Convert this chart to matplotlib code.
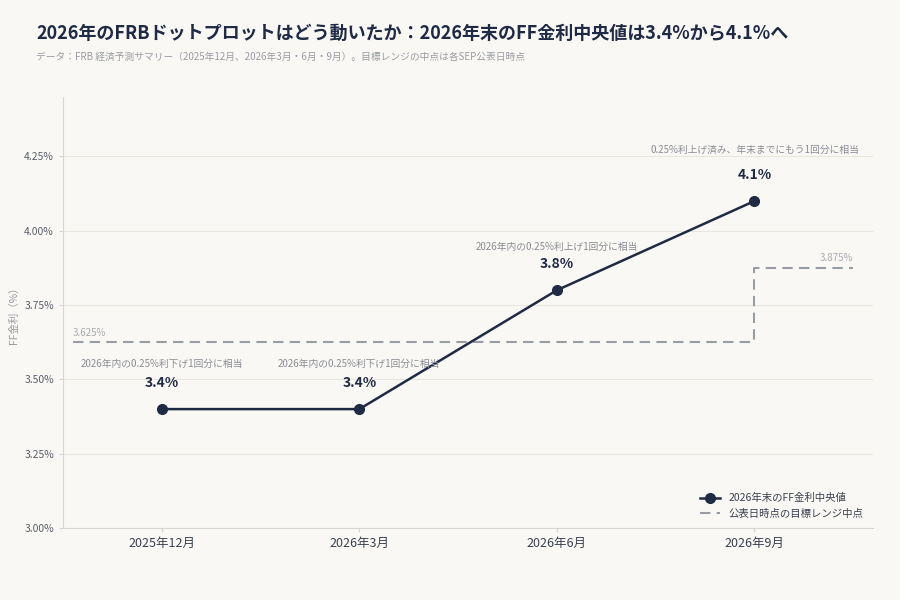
import matplotlib
matplotlib.use("Agg")
import matplotlib.pyplot as plt

plt.rcParams['font.family'] = ['Noto Sans CJK JP', 'DejaVu Sans']

labels = ["2025年12月", "2026年3月", "2026年6月", "2026年9月"]
median = [3.4, 3.4, 3.8, 4.1]
notes = ["2026年内の0.25%利下げ1回分に相当", "2026年内の0.25%利下げ1回分に相当",
         "2026年内の0.25%利上げ1回分に相当", "0.25%利上げ済み、年末までにもう1回分に相当"]
step_x = [-0.45, 3, 3.5]
step_y = [3.625, 3.875, 3.875]
yticks = [3.0, 3.25, 3.5, 3.75, 4.0, 4.25]

bg = "#f9f8f4"
navy = "#1f2a44"
gray = "#9a9ca5"
fig = plt.figure(figsize=(9, 6), dpi=100, facecolor=bg)
ax = fig.add_axes([63/900, 72/600, 810/900, 431/600], facecolor=bg)
x = list(range(len(labels)))
ax.plot(step_x, step_y, drawstyle="steps-post", color=gray, lw=1.5, ls=(0, (5, 3)),
        label="公表日時点の目標レンジ中点")
ax.plot(x, median, color=navy, lw=1.8, marker="o", ms=7, label="2026年末のFF金利中央値", zorder=3)
for xi, v in zip(x, median):
    ax.annotate(f"{v:.1f}%", (xi, v), xytext=(0, 14), textcoords="offset points",
                ha="center", va="bottom", fontsize=10, fontweight="bold", color=navy)
note_y = [3.535, 3.535, 3.93, 4.255]
for xi, t, ny in zip(x, notes, note_y):
    ax.text(xi, ny, t, ha="center", va="bottom", fontsize=7, color="#8a8c94")
ax.text(step_x[0], step_y[0] + 0.015, "3.625%", ha="left", va="bottom", fontsize=7, color="#a8aab0")
ax.text(step_x[-1], step_y[-1] + 0.015, "3.875%", ha="right", va="bottom", fontsize=7, color="#a8aab0")

ax.set_xlim(-0.5, 3.6)
ax.set_ylim(3.0, 4.45)
ax.set_xticks(x)
ax.set_xticklabels(labels, fontsize=9, color="#3a4050")
ax.set_yticks(yticks)
ax.set_yticklabels([f"{v:.2f}%" for v in yticks], fontsize=7.5, color="#5a5f6c")
ax.grid(axis="y", color="#e8e6e0", lw=0.8)
ax.set_axisbelow(True)
for s in ["top", "right"]:
    ax.spines[s].set_visible(False)
for s in ["left", "bottom"]:
    ax.spines[s].set_color("#d8d6d0")
ax.tick_params(length=3, color="#d8d6d0")
ax.set_ylabel("FF金利（%）", fontsize=7.5, color="#9a9ca5")
h, l = ax.get_legend_handles_labels()
ax.legend(h[::-1], l[::-1], loc="lower right", frameon=False, fontsize=7.5, labelcolor="#3a4050")

fig.text(36/900, 1 - 33/600, "2026年のFRBドットプロットはどう動いたか：2026年末のFF金利中央値は3.4%から4.1%へ",
         fontsize=13, fontweight="bold", color=navy, va="center")
fig.text(36/900, 1 - 57/600, "データ：FRB 経済予測サマリー（2025年12月、2026年3月・6月・9月）。目標レンジの中点は各SEP公表日時点",
         fontsize=7, color="#9a9ca5", va="center")
fig.savefig("out.png", dpi=100, facecolor=bg)
